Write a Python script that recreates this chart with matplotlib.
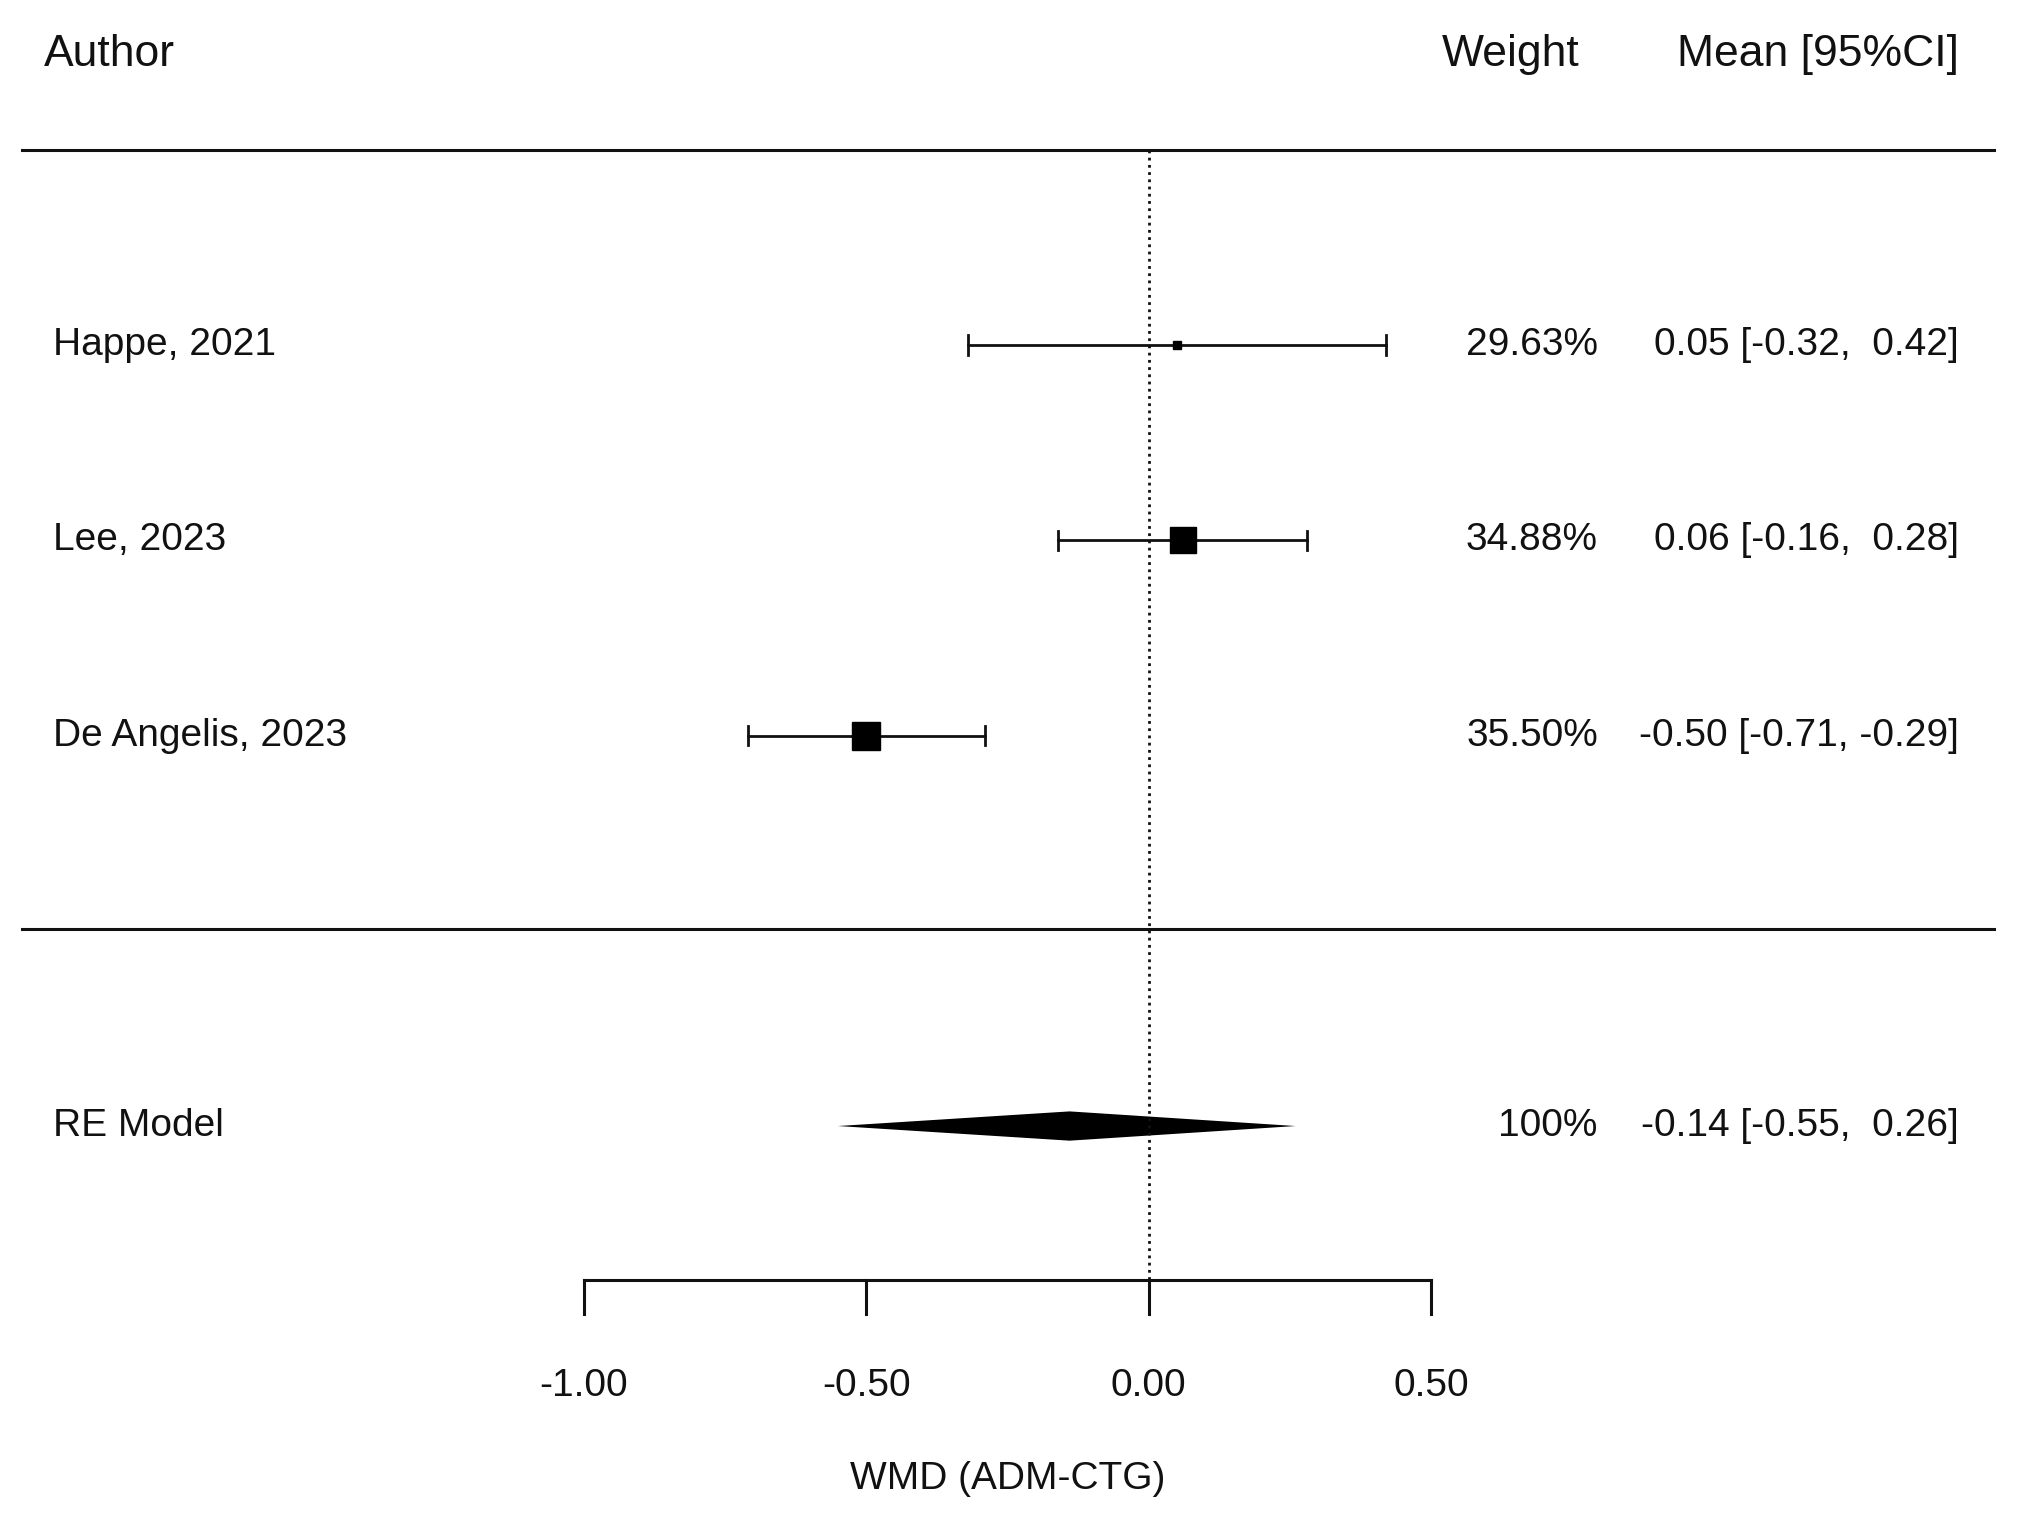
import matplotlib
matplotlib.use("Agg")
import matplotlib.pyplot as plt
import numpy as np

# Study data
authors = ["Happe, 2021", "Lee, 2023", "De Angelis, 2023"]
means = [0.05, 0.06, -0.50]
lowers = [-0.32, -0.16, -0.71]
uppers = [0.42, 0.28, -0.29]
weights = [29.63, 34.88, 35.50]

# Pooled estimate
re_label = "RE Model"
re_mean, re_lower, re_upper = -0.14, -0.55, 0.26
re_weight = "100%"

xticks = [-1.00, -0.50, 0.00, 0.50]
xlabel = "WMD (ADM-CTG)"

plt.rcParams["font.family"] = ["Liberation Sans", "DejaVu Sans"]

fig = plt.figure(figsize=(20.25, 15.36), dpi=100)
ax = fig.add_axes([0, 0, 1, 1])
ax.set_xlim(-2.033, 1.551)
ax.set_ylim(6.10, -1.768)
ax.axis("off")

fs = 28
ink = "#111111"
x_left = -1.94
x_weight = 0.795
x_mean = 1.434

# header
ax.text(-1.956, -1.49, "Author", fontsize=32, ha="left", va="center", color=ink)
ax.text(0.763, -1.49, "Weight", fontsize=32, ha="right", va="center", color=ink)
ax.text(x_mean, -1.49, "Mean [95%CI]", fontsize=32, ha="right", va="center", color=ink)

# horizontal rules
ax.plot([-1.994, 1.497], [-1.0, -1.0], color=ink, lw=2.2)
ax.plot([-1.994, 1.497], [2.99, 2.99], color=ink, lw=2.2)

# reference line at zero
ax.plot([0, 0], [-1.0, 4.79], color=ink, lw=2, ls=(0, (1.0, 1.6)))

# study rows
w = np.array(weights)
sizes = 6 + (w - w.min()) / (w.max() - w.min()) * 14
for i, (a, m, lo, hi, wt) in enumerate(zip(authors, means, lowers, uppers, weights)):
    ax.plot([lo, hi], [i, i], color=ink, lw=2)
    for e in (lo, hi):
        ax.plot([e, e], [i - 0.05, i + 0.05], color=ink, lw=2)
    ax.plot(m, i, marker="s", ms=sizes[i], color="black", mec="black")
    ax.text(x_left, i, a, fontsize=fs, ha="left", va="center", color=ink)
    ax.text(x_weight, i, f"{wt:.2f}%", fontsize=fs, ha="right", va="center", color=ink)
    ax.text(x_mean, i, f"{m:.2f} [{lo:5.2f}, {hi:5.2f}]", fontsize=fs,
            ha="right", va="center", color=ink)

# pooled diamond
yr = 4
h = 0.075
ax.fill([re_lower, re_mean, re_upper, re_mean], [yr, yr - h, yr, yr + h],
        color="black", lw=0)
ax.text(x_left, yr, re_label, fontsize=fs, ha="left", va="center", color=ink)
ax.text(x_weight, yr, re_weight, fontsize=fs, ha="right", va="center", color=ink)
ax.text(x_mean, yr, f"{re_mean:.2f} [{re_lower:5.2f}, {re_upper:5.2f}]", fontsize=fs,
        ha="right", va="center", color=ink)

# x axis
ya = 4.79
ax.plot([xticks[0], xticks[-1]], [ya, ya], color=ink, lw=2.2)
for t in xticks:
    ax.plot([t, t], [ya, ya + 0.175], color=ink, lw=2.2)
    ax.text(t, 5.33, f"{t:.2f}", fontsize=fs, ha="center", va="center", color=ink)
ax.text((xticks[0] + xticks[-1]) / 2, 5.81, xlabel, fontsize=fs,
        ha="center", va="center", color=ink)

fig.savefig("out.png", dpi=100, facecolor="white")
